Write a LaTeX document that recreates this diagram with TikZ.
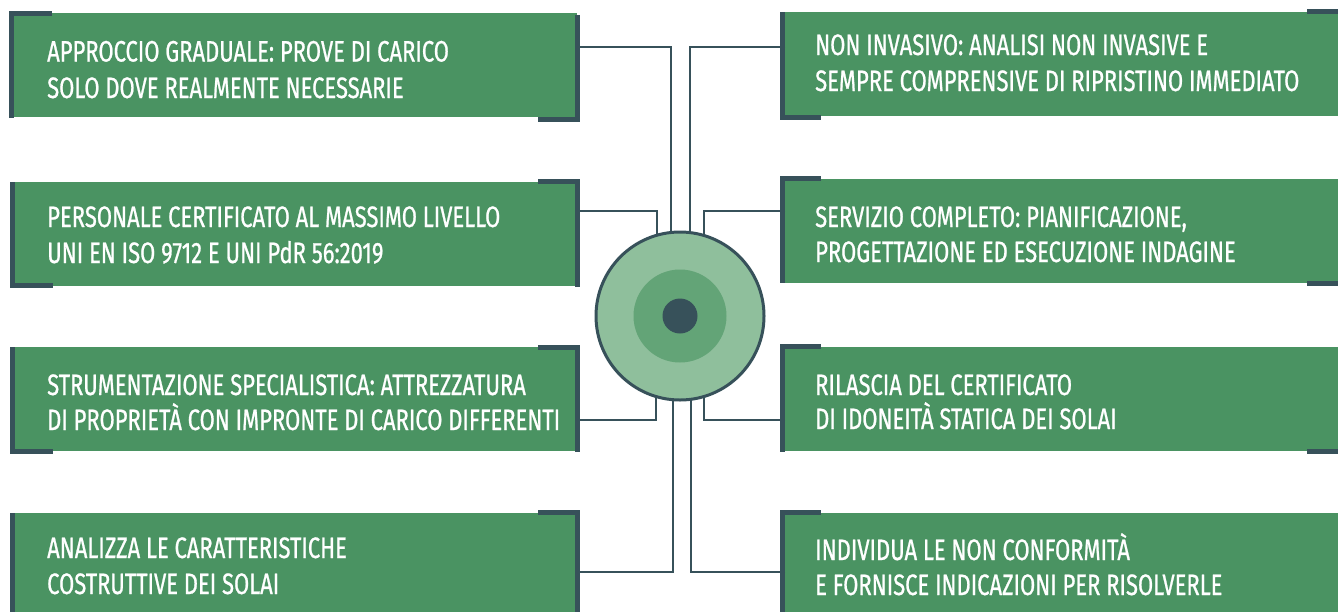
\documentclass[tikz,border=0pt]{standalone}
\usepackage{fontspec}
\setmainfont{Fira Sans}[FakeStretch=0.745, FakeBold=0.8]
\definecolor{boxgreen}{HTML}{4A9362}
\definecolor{darkslate}{HTML}{37515A}
\definecolor{ringlight}{HTML}{8FBF9C}
\definecolor{ringmid}{HTML}{63A477}
\tikzset{
  box/.style={fill=boxgreen, draw=none, anchor=north west, inner sep=0pt, minimum width=#1, minimum height=104pt},
  box/.default=563pt,
  conn/.style={draw=darkslate, line width=2.6pt},
  accent/.style={draw=darkslate, line width=5pt, line join=miter},
  txt/.style={anchor=base west, inner sep=0pt, text=white, font=\fontsize{29.5}{29.5}\selectfont}
}
\begin{document}
\begin{tikzpicture}[x=1pt,y=-1pt]
\clip (0,0) rectangle (1338,611);
\fill[white] (0,0) rectangle (1338,611);
% boxes
\node[box] (L1) at (14,13) {};
\node[box] (L2) at (14,182) {};
\node[box] (L3) at (14,347) {};
\node[box] (L4) at (14,513) {};
\node[box=560pt] (R1) at (785,12) {};
\node[box=560pt] (R2) at (785,179) {};
\node[box=560pt] (R3) at (785,347) {};
\node[box=560pt] (R4) at (785,513) {};
% centre
\coordinate (C) at (680,316);
% connectors
\draw[conn] (L1.north east |- 0,47) -| ([xshift=-9pt]C);
\draw[conn] (R1.north west |- 0,47) -| ([xshift=10pt]C);
\draw[conn] (L2.north east |- 0,211) -| ([xshift=-23pt]C);
\draw[conn] (R2.north west |- 0,211) -| ([xshift=24pt]C);
\draw[conn] (L3.north east |- 0,420) -| ([xshift=-24pt]C);
\draw[conn] (R3.north west |- 0,420) -| ([xshift=24pt]C);
\draw[conn] (L4.north east |- 0,572) -| ([xshift=-7pt]C);
\draw[conn] (R4.north west |- 0,572) -| ([xshift=11pt]C);
% circle
\node[circle, fill=ringlight, draw=darkslate, line width=3pt, minimum size=168pt, inner sep=0pt] (ring) at (C) {};
\node[circle, fill=ringmid, minimum size=93pt, inner sep=0pt] (core) at (C) {};
\node[circle, fill=darkslate, minimum size=35pt, inner sep=0pt] (dot) at (C) {};
% accents
\draw[accent] (52,13) -- (11.5,13) -- (11.5,118);
\draw[accent] (577.5,15) -- (577.5,119) -- (538,119);
\draw[accent] (12.5,182) -- (12.5,285.5) -- (53,285.5);
\draw[accent] (538,181.5) -- (577.5,181.5) -- (577.5,287);
\draw[accent] (12.5,347) -- (12.5,451) -- (53,451);
\draw[accent] (538,347.5) -- (577.5,347.5) -- (577.5,452);
\draw[accent] (12.5,513) -- (12.5,620);
\draw[accent] (538,512.5) -- (577.5,512.5) -- (577.5,620);
\draw[accent] (782,12) -- (782,117.5) -- (821,117.5);
\draw[accent] (1307,11.5) -- (1340,11.5);
\draw[accent] (821,178.5) -- (782,178.5) -- (782,283);
\draw[accent] (1307,283.5) -- (1340,283.5);
\draw[accent] (821,346.5) -- (782,346.5) -- (782,452);
\draw[accent] (1307,451.5) -- (1340,451.5);
\draw[accent] (821,512.5) -- (782,512.5) -- (782,620);
% texts
\node[txt] (L1a) at (47,61.5) {APPROCCIO GRADUALE: PROVE DI CARICO};
\node[txt] (L1b) at (47,98) {SOLO DOVE REALMENTE NECESSARIE};
\node[txt] (L2a) at (47,227) {PERSONALE CERTIFICATO AL MASSIMO LIVELLO};
\node[txt] (L2b) at (47,263) {UNI EN ISO 9712 E UNI PdR 56:2019};
\node[txt] (L3a) at (47,395) {STRUMENTAZIONE SPECIALISTICA: ATTREZZATURA};
\node[txt] (L3b) at (47,430) {DI PROPRIETÀ CON IMPRONTE DI CARICO DIFFERENTI};
\node[txt] (L4a) at (47,558) {ANALIZZA LE CARATTERISTICHE};
\node[txt] (L4b) at (47,594) {COSTRUTTIVE DEI SOLAI};
\node[txt] (R1a) at (815,55) {NON INVASIVO: ANALISI NON INVASIVE E};
\node[txt] (R1b) at (815,91) {SEMPRE COMPRENSIVE DI RIPRISTINO IMMEDIATO};
\node[txt] (R2a) at (815,227) {SERVIZIO COMPLETO: PIANIFICAZIONE,};
\node[txt] (R2b) at (815,262) {PROGETTAZIONE ED ESECUZIONE INDAGINE};
\node[txt] (R3a) at (815,395) {RILASCIA DEL CERTIFICATO};
\node[txt] (R3b) at (815,429) {DI IDONEITÀ STATICA DEI SOLAI};
\node[txt] (R4a) at (815,560) {INDIVIDUA LE NON CONFORMITÀ};
\node[txt] (R4b) at (815,595) {E FORNISCE INDICAZIONI PER RISOLVERLE};
\end{tikzpicture}
\end{document}
